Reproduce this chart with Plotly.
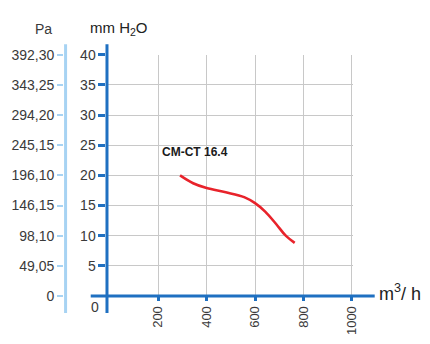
import plotly.graph_objects as go

# Fan curve CM-CT 16.4: airflow (m3/h) vs static pressure (mm H2O)
flow = [290, 344, 400, 479, 555, 600, 642, 688, 727, 764]
pressure_mm = [20.0, 18.7, 17.9, 17.2, 16.4, 15.4, 14.0, 11.9, 10.0, 8.8]

x_ticks = [200, 400, 600, 800, 1000]
x_tick_text = ["200", "400", "600", "800", "1000"]

mm_ticks = [5, 10, 15, 20, 25, 30, 35, 40]
mm_tick_text = ["5", "10", "15", "20", "25", "30", "35", "40"]

pa_ticks = [0, 5, 10, 15, 20, 25, 30, 35, 40]
pa_tick_text = ["0", "49,05", "98,10", "146,15", "196,10",
                "245,15", "294,20", "343,25", "392,30"]

W, H = 430, 344
BLUE = "#1f70c1"
LIGHT_BLUE = "#a7d3f3"
GRID = "#c8c8c8"
RED = "#e8232b"
TXT = "#3a3a3a"
FONT = "Liberation Sans, Arial, sans-serif"


def px(v):
    return v / W


def py(v):
    return (H - v) / H


fig = go.Figure()

fig.add_trace(go.Scatter(
    x=flow, y=pressure_mm, mode="lines",
    line=dict(color=RED, width=2.6, shape="spline", smoothing=1.0),
    hoverinfo="skip", showlegend=False,
))

# invisible trace so the Pa axis is rendered
fig.add_trace(go.Scatter(
    x=[None], y=[None], yaxis="y2", showlegend=False, hoverinfo="skip",
))

fig.update_layout(
    width=W, height=H,
    margin=dict(l=0, r=0, t=0, b=0),
    paper_bgcolor="white", plot_bgcolor="white",
    font=dict(family=FONT, color=TXT, size=14),
    xaxis=dict(
        domain=[px(108), px(358)],
        range=[-14, 1005],
        tickvals=x_ticks, ticktext=x_tick_text,
        tickangle=-90,
        tickfont=dict(size=13, color=TXT),
        ticks="outside", ticklen=4, tickwidth=3, tickcolor=BLUE,
        showgrid=True, gridcolor=GRID, gridwidth=1,
        zeroline=False, showline=False,
    ),
    yaxis=dict(
        domain=[py(302), py(49)],
        range=[0, 40.02],
        tickvals=mm_ticks, ticktext=mm_tick_text,
        tickfont=dict(size=14, color=TXT),
        ticks="outside", ticklen=7, tickwidth=3, tickcolor=BLUE,
        showgrid=True, gridcolor=GRID, gridwidth=1,
        zeroline=False, showline=False,
    ),
    yaxis2=dict(
        overlaying="y", anchor="free", position=px(64), side="left",
        range=[0, 40.02],
        tickvals=pa_ticks, ticktext=pa_tick_text,
        tickfont=dict(size=14, color=TXT),
        ticks="outside", ticklen=6, tickwidth=2, tickcolor=LIGHT_BLUE,
        showgrid=False, zeroline=False, showline=False,
    ),
    shapes=[
        # Pa axis line
        dict(type="line", xref="paper", yref="paper",
             x0=px(66.5), x1=px(66.5), y0=py(38), y1=py(320),
             line=dict(color=LIGHT_BLUE, width=3)),
        # mm H2O axis line
        dict(type="line", xref="paper", yref="paper",
             x0=px(108.5), x1=px(108.5), y0=py(38), y1=py(320),
             line=dict(color=BLUE, width=3)),
        # flow axis line
        dict(type="line", xref="paper", yref="paper",
             x0=px(92), x1=px(380), y0=py(302), y1=py(302),
             line=dict(color=BLUE, width=3)),
    ],
    annotations=[
        dict(text="Pa", xref="paper", yref="paper", x=px(44.5), y=py(22),
             showarrow=False, xanchor="center", yanchor="middle",
             font=dict(size=14, color=TXT)),
        dict(text="mm H<sub>2</sub>O", xref="paper", yref="paper",
             x=px(89), y=py(21), showarrow=False,
             xanchor="left", yanchor="middle",
             font=dict(size=15, color="#222222")),
        dict(text="m<sup>3</sup>/ h", xref="paper", yref="paper",
             x=px(382), y=py(298), showarrow=False,
             xanchor="left", yanchor="middle",
             font=dict(size=18, color="#222222")),
        dict(text="0", xref="paper", yref="paper",
             x=px(96), y=py(314), showarrow=False,
             xanchor="center", yanchor="middle",
             font=dict(size=14, color=TXT)),
        dict(text="<b>CM-CT 16.4</b>", x=208, y=23.9,
             xref="x", yref="y", showarrow=False,
             xanchor="left", yanchor="middle",
             font=dict(size=12, color="#1a1a1a")),
    ],
)

fig.write_html("out.html")
